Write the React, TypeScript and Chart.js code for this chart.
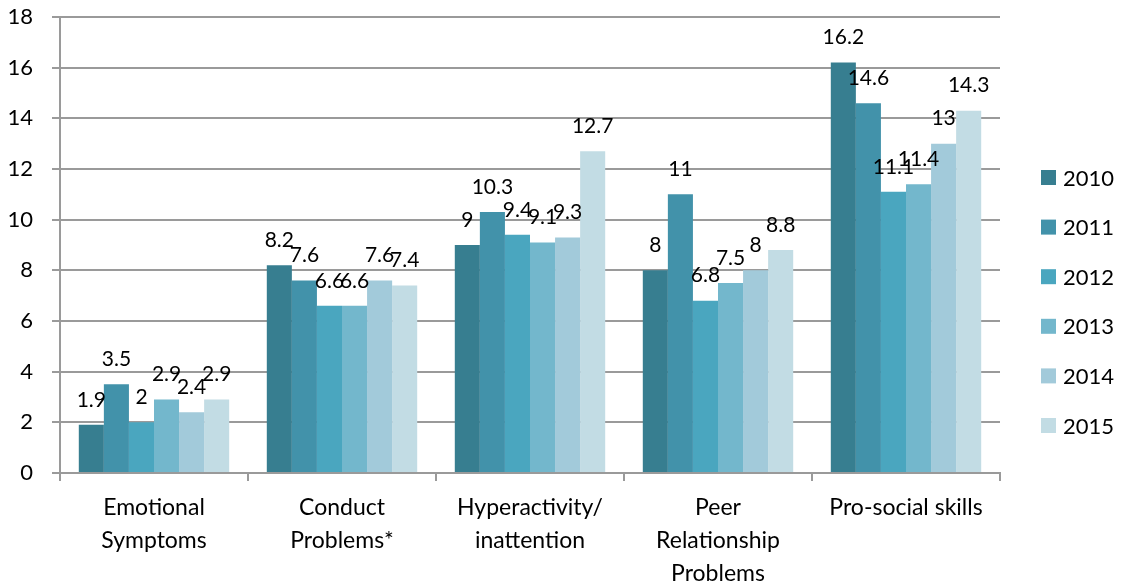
import React, { useEffect, useRef } from "react";
import { Chart, registerables } from "chart.js";

Chart.register(...registerables);

const categories: string[][] = [
  ["Emotional", "Symptoms"],
  ["Conduct", "Problems*"],
  ["Hyperactivity/", "inattention"],
  ["Peer", "Relationship", "Problems"],
  ["Pro-social skills"],
];
const years = ["2010", "2011", "2012", "2013", "2014", "2015"];
const v2010 = [1.9, 8.2, 9, 8, 16.2];
const v2011 = [3.5, 7.6, 10.3, 11, 14.6];
const v2012 = [2, 6.6, 9.4, 6.8, 11.1];
const v2013 = [2.9, 6.6, 9.1, 7.5, 11.4];
const v2014 = [2.4, 7.6, 9.3, 8, 13];
const v2015 = [2.9, 7.4, 12.7, 8.8, 14.3];
const seriesValues = [v2010, v2011, v2012, v2013, v2014, v2015];
const colors = ["#377E90", "#4292AA", "#4AA6BF", "#73B7CC", "#A2CADA", "#C2DCE4"];
const yTicks = [0, 2, 4, 6, 8, 10, 12, 14, 16, 18];

const FONT = "Lato, 'Liberation Sans', sans-serif";
const GRID = "#9a9a9a";

const labelPlugin = {
  id: "barLabels",
  afterDatasetsDraw(chart: any) {
    const ctx = chart.ctx;
    ctx.save();
    ctx.font = `21px ${FONT}`;
    ctx.fillStyle = "#000";
    ctx.textAlign = "center";
    ctx.textBaseline = "middle";
    chart.data.datasets.forEach((ds: any, i: number) => {
      const meta = chart.getDatasetMeta(i);
      meta.data.forEach((bar: any, j: number) => {
        ctx.fillText(String(ds.data[j]), bar.x, bar.y - 25);
      });
    });
    ctx.restore();
  },
};

const legendPlugin = {
  id: "sideLegend",
  afterDraw(chart: any) {
    const ctx = chart.ctx;
    const area = chart.chartArea;
    const n = chart.data.datasets.length;
    const spacing = 49.6;
    const centerY = chart.height / 2 + 10;
    const startY = centerY - ((n - 1) * spacing) / 2;
    const boxX = area.right + 41;
    ctx.save();
    ctx.font = `22px ${FONT}`;
    ctx.textAlign = "left";
    ctx.textBaseline = "middle";
    chart.data.datasets.forEach((ds: any, i: number) => {
      const y = startY + i * spacing;
      ctx.fillStyle = ds.backgroundColor;
      ctx.fillRect(boxX, y - 7.5, 15, 15);
      ctx.fillStyle = "#000";
      ctx.fillText(ds.label, boxX + 22, y + 1);
    });
    ctx.restore();
  },
};

export default function App() {
  const ref = useRef<HTMLCanvasElement>(null);
  useEffect(() => {
    document.body.style.margin = "0";
    const chart = new Chart(ref.current!, {
      type: "bar",
      data: {
        labels: categories,
        datasets: years.map((y, i) => ({
          label: y,
          data: seriesValues[i],
          backgroundColor: colors[i],
          borderWidth: 0,
          categoryPercentage: 0.8,
          barPercentage: 1,
        })),
      },
      options: {
        animation: false,
        responsive: false,
        maintainAspectRatio: false,
        layout: { padding: { top: 17, right: 126, left: 0, bottom: 0 } },
        plugins: {
          tooltip: { enabled: false },
          legend: { display: false },
        },
        scales: {
          x: {
            grid: {
              offset: true,
              drawOnChartArea: false,
              drawTicks: true,
              tickLength: 8,
              color: GRID,
              lineWidth: 2,
            },
            border: { color: GRID, width: 2 },
            ticks: {
              color: "#000",
              font: { family: FONT, size: 23, lineHeight: 1.43 },
              maxRotation: 0,
              autoSkip: false,
              padding: 10,
            },
            afterFit: (s: any) => {
              s.height = 110;
              s.paddingLeft = 0;
              s.paddingRight = 0;
            },
          },
          y: {
            min: 0,
            max: 18,
            afterBuildTicks: (s: any) => {
              s.ticks = yTicks.map((v) => ({ value: v }));
            },
            grid: { color: GRID, tickLength: 8, lineWidth: 2 },
            border: { color: GRID, width: 2 },
            ticks: {
              color: "#000",
              font: { family: FONT, size: 22 },
              padding: 19,
            },
            afterFit: (s: any) => {
              s.width = 60;
              s.paddingTop = 0;
              s.paddingBottom = 0;
            },
          },
        },
      },
      plugins: [labelPlugin, legendPlugin],
    });
    return () => chart.destroy();
  }, []);
  return (
    <div style={{ width: 1126, height: 583 }}>
      <canvas ref={ref} width={1126} height={583} />
    </div>
  );
}
